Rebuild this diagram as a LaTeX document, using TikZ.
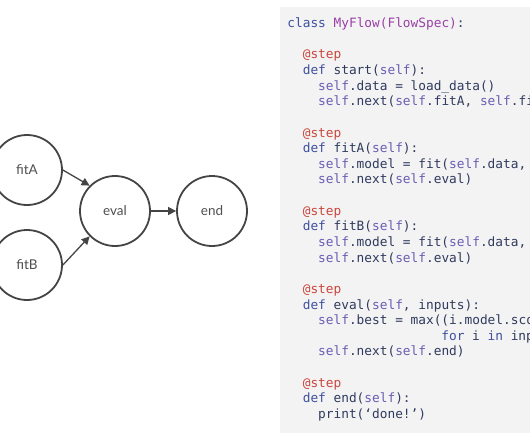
\documentclass[tikz,border=0pt]{standalone}
\usepackage{fontspec}
\setsansfont{Lato}
\newfontfamily\codefont{DejaVu Sans Mono}
\usetikzlibrary{positioning,arrows.meta}

\definecolor{boxgray}{HTML}{F3F3F3}
\definecolor{circgray}{HTML}{444444}
\definecolor{labelgray}{HTML}{4E4E4E}
\definecolor{codetext}{HTML}{2F3A5E}
\definecolor{kwblue}{HTML}{3F4F9E}
\definecolor{selfpurple}{HTML}{6A5DB3}
\definecolor{stepred}{HTML}{C9473D}
\definecolor{clspurple}{HTML}{9A3FA6}

\newcommand{\kw}[1]{\textcolor{kwblue}{#1}}
\newcommand{\slf}{\textcolor{selfpurple}{self}}
\newcommand{\deco}{\textcolor{stepred}{@step}}

\begin{document}
\begin{tikzpicture}[x=1pt, y=-1pt, node distance=95pt, thick,
    main/.style = {draw=circgray, circle, line width=1.8pt, minimum size=70pt, inner sep=0pt,
                   text=labelgray, font=\sffamily\fontsize{13.5}{16}\selectfont},
    code/.style = {anchor=base west, inner sep=0pt, text=codetext,
                   font=\codefont\fontsize{12.8}{15}\selectfont},
    >={Triangle[length=8pt, width=8pt]}]
    \clip (0,0) rectangle (530,442);
    \fill[boxgray] (280,7) rectangle (540,433);

    % the flow
    \node[main] (fitA) at (27,170) {fitA};
    \node[main] (fitB) [below of=fitA] {fitB};
    \node[main] (eval) at (115,211) {eval};
    \node[main] (end) [right of=eval, node distance=97pt] {end};
    \draw[->, draw=circgray, line width=1.3pt] (fitA.east) -- (eval.135);
    \draw[->, draw=circgray, line width=1.3pt] (fitB.east) -- (eval.225);
    \draw[->, draw=circgray, line width=1.3pt] (eval) -- (end);

    % the code
    \node[code] (c0) at (287,27.5) {\kw{class} \textcolor{clspurple}{MyFlow(FlowSpec)}:};
    \node[code] (c2) at (302.4,58.8) {\deco};
    \node[code] (c3) at (302.4,74.4) {\kw{def} start(\slf):};
    \node[code] (c4) at (317.8,90.1) {\slf.data = load\_data()};
    \node[code] (c5) at (317.8,105.7) {\slf.next(\slf.fitA, \slf.fitB)};
    \node[code] (c7) at (302.4,137.0) {\deco};
    \node[code] (c8) at (302.4,152.6) {\kw{def} fitA(\slf):};
    \node[code] (c9) at (317.8,168.3) {\slf.model = fit(\slf.data,};
    \node[code] (c10) at (317.8,183.9) {\slf.next(\slf.eval)};
    \node[code] (c12) at (302.4,215.2) {\deco};
    \node[code] (c13) at (302.4,230.8) {\kw{def} fitB(\slf):};
    \node[code] (c14) at (317.8,246.5) {\slf.model = fit(\slf.data,};
    \node[code] (c15) at (317.8,262.1) {\slf.next(\slf.eval)};
    \node[code] (c17) at (302.4,293.4) {\deco};
    \node[code] (c18) at (302.4,309.0) {\kw{def} eval(\slf, inputs):};
    \node[code] (c19) at (317.8,324.7) {\slf.best = max((i.model.score};
    \node[code] (c20) at (441.0,340.3) {\kw{for} i \kw{in} inputs))};
    \node[code] (c21) at (317.8,355.9) {\slf.next(\slf.end)};
    \node[code] (c23) at (302.4,387.2) {\deco};
    \node[code] (c24) at (302.4,402.9) {\kw{def} end(\slf):};
    \node[code] (c25) at (317.8,418.5) {print(‘done!’)};
\end{tikzpicture}
\end{document}
